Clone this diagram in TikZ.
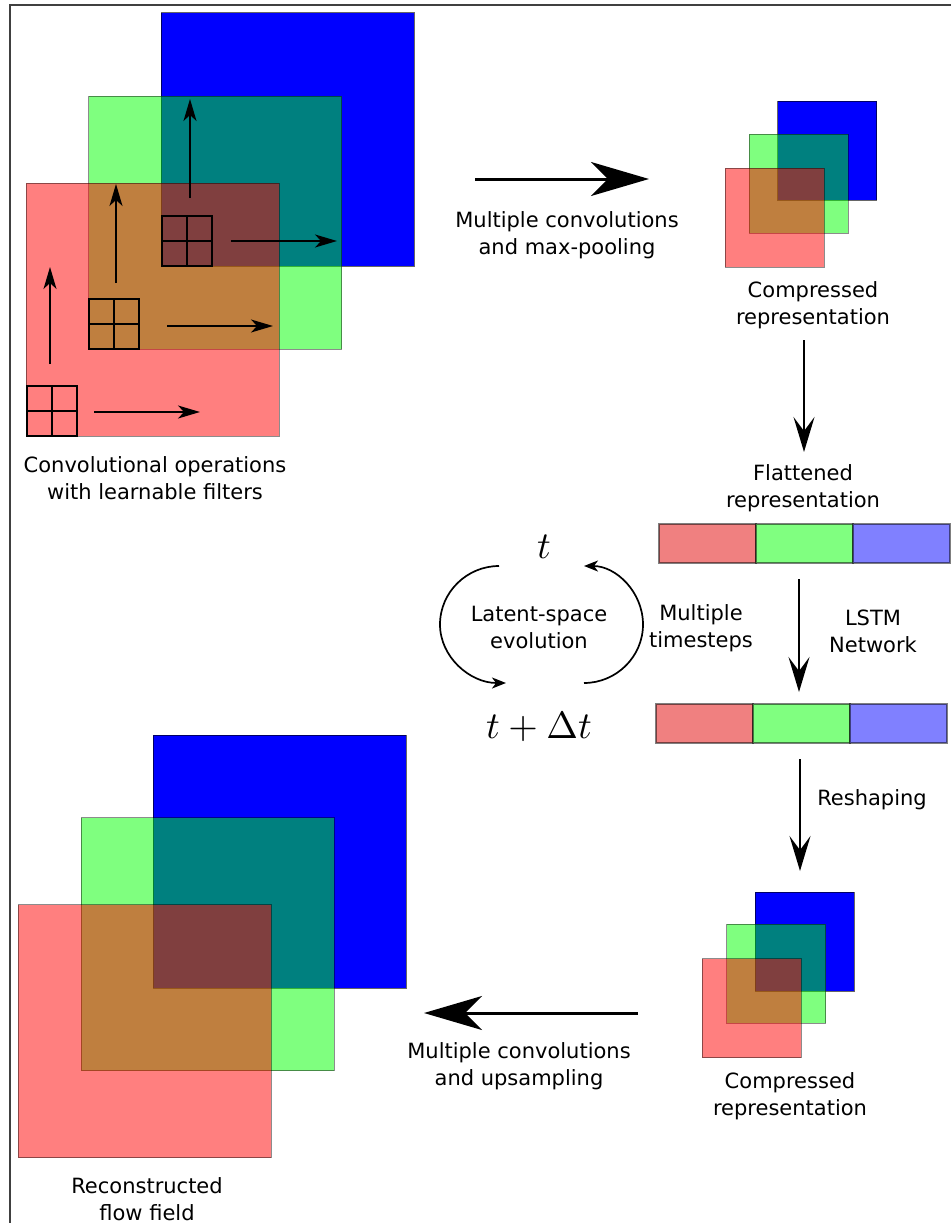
\documentclass[tikz,border=0pt]{standalone}
\usepackage{graphicx}
\usepackage{fontspec}
\setmainfont{DejaVu Sans}
\usetikzlibrary{arrows.meta}
\definecolor{barred}{RGB}{240,128,128}
\definecolor{bargreen}{RGB}{128,255,128}
\definecolor{barblue}{RGB}{128,128,255}
\begin{document}
\begin{tikzpicture}[x=1pt,y=-1pt,
  sqblue/.style={draw=black, draw opacity=0.6, line width=1pt, fill=blue, minimum size=#1, inner sep=0pt, outer sep=0pt},
  sqgreen/.style={draw=black, draw opacity=0.45, line width=1pt, fill={rgb,255:red,0;green,255;blue,0}, fill opacity=0.5, minimum size=#1, inner sep=0pt, outer sep=0pt},
  sqred/.style={draw=black, draw opacity=0.45, line width=1pt, fill={rgb,255:red,255;green,0;blue,0}, fill opacity=0.5, minimum size=#1, inner sep=0pt, outer sep=0pt},
  filterbox/.style={draw=black, line width=2pt, minimum size=50pt, inner sep=0pt, outer sep=0pt},
  barcell/.style={draw=black, draw opacity=0.5, line width=1.5pt, minimum width=97pt, minimum height=39pt, inner sep=0pt, outer sep=0pt},
  lbl/.style={font=\fontsize{21}{27}\selectfont, align=center, anchor=base, inner sep=0pt},
  mathlbl/.style={font=\normalsize, anchor=base, inner sep=0pt},
  bigarrow/.style={line width=3pt, -{Stealth[length=58pt,width=34pt,inset=17pt]}},
  midarrow/.style={line width=2pt, -{Stealth[length=35pt,width=21pt,inset=14pt]}},
  smallarrow/.style={line width=1.3pt, -{Stealth[length=22pt,width=13pt,inset=6pt]}},
  looparrow/.style={line width=1.7pt, -{Stealth[length=14pt,width=11pt,inset=4pt]}},
  framestyle/.style={draw=black!75, line width=1.5pt}
]
\useasboundingbox (0,0) rectangle (951,1223);
% frame
\coordinate (frameTR) at (951,5);
\coordinate (frameTL) at (10,5);
\coordinate (frameBL) at (10,1223);
\draw[framestyle] (frameTR) -- (frameTL) -- (frameBL);

% ---------- top-left input field ----------
\node[sqblue=253pt] (inB) at (287.5,139.5) {};
\node[sqgreen=253pt] (inG) at (215,222.5) {};
\node[sqred=253pt] (inR) at (152.5,309.5) {};
\foreach \n/\cx/\cy in {fA/186.5/241, fB/114/323.5, fC/51.5/411}{
  \node[filterbox] (\n) at (\cx,\cy) {};
  \draw[line width=2pt] (\n.north) -- (\n.south) (\n.west) -- (\n.east);
}
\coordinate (upA0) at (190,198); \coordinate (upA1) at (190,99);
\coordinate (upB0) at (116,283); \coordinate (upB1) at (116,184);
\coordinate (upC0) at (50,364);  \coordinate (upC1) at (50,267);
\coordinate (rtA0) at (231,241); \coordinate (rtA1) at (337,241);
\coordinate (rtB0) at (167,326); \coordinate (rtB1) at (273,326);
\coordinate (rtC0) at (94,412);  \coordinate (rtC1) at (200,412);
\draw[smallarrow] (upA0) -- (upA1);
\draw[smallarrow] (upB0) -- (upB1);
\draw[smallarrow] (upC0) -- (upC1);
\draw[smallarrow] (rtA0) -- (rtA1);
\draw[smallarrow] (rtB0) -- (rtB1);
\draw[smallarrow] (rtC0) -- (rtC1);
\node[lbl] (convlbl) at (155,499) {Convolutional operations\\with learnable filters};

% ---------- encoder arrow ----------
\coordinate (encA) at (475,179); \coordinate (encB) at (649,179);
\draw[bigarrow] (encA) -- (encB);
\node[lbl] (enclbl) at (567,254) {Multiple convolutions\\and max-pooling};

% ---------- compressed (top right) ----------
\node[sqblue=99pt] (cB) at (827,150.5) {};
\node[sqgreen=99pt] (cG) at (798.5,183.5) {};
\node[sqred=99pt] (cR) at (774.5,217.5) {};
\node[lbl] (comp1lbl) at (813,324) {Compressed\\representation};

\coordinate (flA) at (804,340); \coordinate (flB) at (804,452);
\draw[midarrow] (flA) -- (flB);
\node[lbl] (flatlbl) at (803,507) {Flattened\\representation};

% ---------- flattened bars ----------
\node[barcell, fill=barred] (b1r) at (707.5,543.5) {};
\node[barcell, fill=bargreen] (b1g) at (804.5,543.5) {};
\node[barcell, fill=barblue] (b1b) at (901.5,543.5) {};

\coordinate (lsA) at (799,579); \coordinate (lsB) at (799,692);
\draw[midarrow] (lsA) -- (lsB);
\node[lbl] (lstmlbl) at (873,652) {LSTM\\Network};

\node[barcell, fill=barred] (b2r) at (704.5,723.5) {};
\node[barcell, fill=bargreen] (b2g) at (801.5,723.5) {};
\node[barcell, fill=barblue] (b2b) at (898.5,723.5) {};

% ---------- latent loop ----------
\node[mathlbl] (tlbl) at (544,558) {\scalebox{3.8}{$t$}};
\node[mathlbl] (tdtlbl) at (539,738) {\scalebox{3.8}{$t+\Delta t$}};
\node[lbl] (latlbl) at (539,648) {Latent-space\\evolution};
\node[lbl] (mtlbl) at (701,647) {Multiple\\timesteps};
\coordinate (lpA) at (499,566);
\coordinate (lpB) at (440,624.5);
\coordinate (lpC) at (506,683);
\draw[looparrow] (lpA) .. controls (467,566) and (440,592) .. (lpB)
                       .. controls (440,657) and (470,683) .. (lpC);
\coordinate (rpA) at (584,683);
\coordinate (rpB) at (643,624.5);
\coordinate (rpC) at (584,566);
\draw[looparrow] (rpA) .. controls (616,683) and (643,657) .. (rpB)
                       .. controls (643,592) and (616,566) .. (rpC);

% ---------- reshaping ----------
\coordinate (rsA) at (800,759); \coordinate (rsB) at (800,871);
\draw[midarrow] (rsA) -- (rsB);
\node[lbl] (reslbl) at (872,805) {Reshaping};

% ---------- compressed (bottom right) ----------
\node[sqblue=99pt] (dB) at (804.5,941.5) {};
\node[sqgreen=99pt] (dG) at (776,973.5) {};
\node[sqred=99pt] (dR) at (751.5,1008) {};
\node[lbl] (comp2lbl) at (790,1115) {Compressed\\representation};

% ---------- decoder arrow ----------
\coordinate (decA) at (638,1013); \coordinate (decB) at (424,1013);
\draw[bigarrow] (decA) -- (decB);
\node[lbl] (declbl) at (519,1085) {Multiple convolutions\\and upsampling};

% ---------- reconstructed field ----------
\node[sqblue=253pt] (oB) at (279.5,861.5) {};
\node[sqgreen=253pt] (oG) at (207.5,944) {};
\node[sqred=253pt] (oR) at (144.5,1031) {};
\node[lbl] (reclbl) at (147,1220) {Reconstructed\\flow field};
\end{tikzpicture}
\end{document}
